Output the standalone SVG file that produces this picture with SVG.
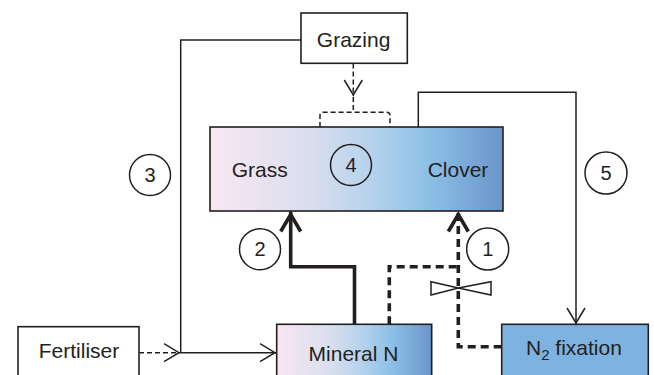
<svg xmlns="http://www.w3.org/2000/svg" width="654" height="375" viewBox="0 0 654 375">
<defs>
<style>
.box{stroke:#231F20;stroke-width:1.6}
.wbox{fill:#FFFFFF;stroke:#231F20;stroke-width:1.6}
.lbl{font-family:"Liberation Sans",Arial,sans-serif;font-size:21px;fill:#231F20}
.num{font-family:"Liberation Sans",Arial,sans-serif;font-size:20px;fill:#231F20;text-anchor:middle}
.circ{fill:none;stroke:#231F20;stroke-width:1.5}
.thin{fill:none;stroke:#231F20;stroke-width:1.5}
.thindash{fill:none;stroke:#231F20;stroke-width:1.5;stroke-dasharray:5 3}
.thick{fill:none;stroke:#231F20;stroke-width:3.6}
.thickdash{fill:none;stroke:#231F20;stroke-width:3.6;stroke-dasharray:8 5}
</style>
<linearGradient id="plantGrad" x1="0" y1="0" x2="1" y2="0">
<stop offset="0" stop-color="#F9E7F1"/>
<stop offset="0.35" stop-color="#D8DEEF"/>
<stop offset="0.55" stop-color="#B5D2EC"/>
<stop offset="0.75" stop-color="#8CBFE6"/>
<stop offset="1" stop-color="#6A94CA"/>
</linearGradient>
<marker id="arrThin" markerUnits="userSpaceOnUse" viewBox="-20 -12 24 24" markerWidth="24" markerHeight="24" refX="0" refY="0" orient="auto">
<path d="M-16,-9 L-1,0 L-16,9" fill="none" stroke="#231F20" stroke-width="1.5" stroke-dasharray="none"/>
</marker>
<marker id="arrThick" markerUnits="userSpaceOnUse" viewBox="-24 -14 28 28" markerWidth="28" markerHeight="28" refX="0" refY="0" orient="auto">
<path d="M-20,-10 L-3,0 L-20,10" fill="none" stroke="#231F20" stroke-width="3.6" stroke-dasharray="none"/>
</marker>
</defs>
<rect width="654" height="375" fill="#FFFFFF"/>

<g id="connectors">
<path class="thin" d="M301,40 H180.7 V352.7 H276" marker-end="url(#arrThin)"/>
<path class="thindash" d="M139,352.7 H180" marker-end="url(#arrThin)"/>
<path class="thindash" d="M353.3,63.5 V96" marker-end="url(#arrThin)"/>
<path class="thindash" d="M353.3,97 V112.3 M320,127 V115.5 Q320,112.3 323.2,112.3 H386.8 Q390,112.3 390,115.5 V127"/>
<path class="thin" d="M418.3,127 V92.3 H576 V324" marker-end="url(#arrThin)"/>
<path class="thick" d="M354.5,324.3 V266.7 H290.7 V211.5" marker-end="url(#arrThick)"/>
<path class="thickdash" d="M389.3,324.3 V266.7 H458.3"/>
<path class="thickdash" d="M501.7,346.7 H458.3 V211.5" marker-end="url(#arrThick)"/>
<path class="thin" d="M458.3,288 L431,281.7 L431,295 Z M458.3,288 L491,281.7 L491,295 Z" style="fill:#FFFFFF"/>
</g>

<g id="grazing">
<rect class="wbox" x="301" y="13" width="106.3" height="50.3"/>
<text class="lbl" x="353.6" y="46.5" text-anchor="middle">Grazing</text>
</g>

<g id="plants">
<rect class="box" x="210" y="127" width="293" height="84" fill="url(#plantGrad)"/>
<text class="lbl" x="259.7" y="176.5" text-anchor="middle">Grass</text>
<text class="lbl" x="458" y="176.5" text-anchor="middle">Clover</text>
</g>

<g id="fertiliser">
<rect class="wbox" x="18" y="326.7" width="121" height="60"/>
<text class="lbl" x="79" y="357.5" text-anchor="middle">Fertiliser</text>
</g>

<g id="mineralN">
<rect class="box" x="276.7" y="324.3" width="155" height="60" fill="url(#plantGrad)"/>
<text class="lbl" x="353.5" y="361" text-anchor="middle">Mineral N</text>
</g>

<g id="n2fixation">
<rect class="box" x="501.7" y="324.3" width="146.6" height="60" fill="#7EB2E1"/>
<text class="lbl" x="526" y="354.5">N<tspan font-size="15" dy="5">2</tspan><tspan dy="-5"> fixation</tspan></text>
</g>

<g id="label1"><circle class="circ" cx="487.7" cy="249" r="21"/><text class="num" x="487.7" y="256">1</text></g>
<g id="label2"><circle class="circ" cx="260" cy="249.3" r="20.5"/><text class="num" x="260" y="256.3">2</text></g>
<g id="label3"><circle class="circ" cx="150" cy="175" r="20.5"/><text class="num" x="150" y="182">3</text></g>
<g id="label4"><circle class="circ" cx="351" cy="165" r="20.5"/><text class="num" x="351" y="172">4</text></g>
<g id="label5"><circle class="circ" cx="606" cy="173" r="21"/><text class="num" x="606" y="180">5</text></g>
</svg>
